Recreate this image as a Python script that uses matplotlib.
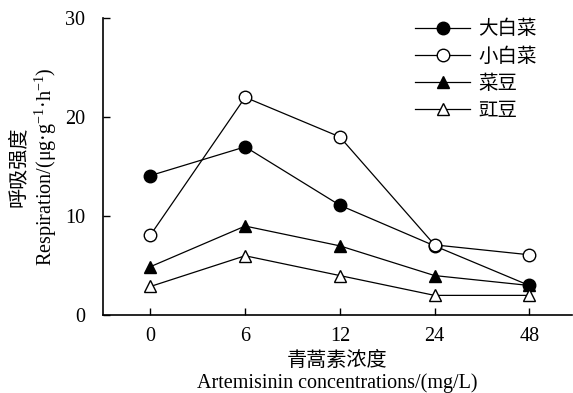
import matplotlib
matplotlib.use("Agg")
import matplotlib.pyplot as plt

plt.rcParams['font.family'] = ['Liberation Serif', 'Noto Sans CJK SC']
plt.rcParams['mathtext.fontset'] = 'custom'
plt.rcParams['mathtext.rm'] = 'Liberation Serif'

# data
concs = ['0', '6', '12', '24', '48']
dabaicai = [14.1, 17.0, 11.1, 7.0, 3.0]
xiaobaicai = [8.1, 22.0, 18.0, 7.1, 6.1]
caidou = [4.9, 9.0, 7.0, 4.0, 3.0]
jiangdou = [2.9, 6.0, 4.0, 2.0, 2.0]
names = ['大白菜', '小白菜', '菜豆', '豇豆']

fig = plt.figure(figsize=(5.73, 3.93), dpi=100)
ax = fig.add_axes([0.18, 0.198, 0.818, 0.756])

x = list(range(len(concs)))
lw = 0.9
ms = 9
ax.plot(x, dabaicai, '-o', color='black', mfc='black', mec='black', lw=lw, ms=ms, label=names[0])
ax.plot(x, xiaobaicai, '-o', color='black', mfc='white', mec='black', lw=lw, ms=ms, label=names[1])
ax.plot(x, caidou, '-^', color='black', mfc='black', mec='black', lw=lw, ms=ms, label=names[2])
ax.plot(x, jiangdou, '-^', color='black', mfc='white', mec='black', lw=lw, ms=ms, label=names[3])

ax.set_xlim(-0.5, 4.45)
ax.set_ylim(0, 30)
ax.set_xticks(x)
ax.set_xticklabels(concs)
ax.set_yticks([0, 10, 20, 30])
ax.tick_params(direction='in', labelsize=14.5, length=5, width=1)
ax.tick_params(axis='y', pad=13)
ax.tick_params(axis='x', pad=8.5)
ax.spines['top'].set_visible(False)
ax.spines['right'].set_visible(False)
ax.spines['left'].set_linewidth(1.2)
ax.spines['bottom'].set_linewidth(1.2)

ax.set_xlabel('青蒿素浓度\nArtemisinin concentrations/(mg/L)', fontsize=14.5, linespacing=1.2, labelpad=4)
ax.set_ylabel('呼吸强度\nRespiration/(μg·g$^{-1}$·h$^{-1}$)', fontsize=14.5, linespacing=1.2, labelpad=4)

leg = ax.legend(loc='upper left', bbox_to_anchor=(0.724, 0.949), bbox_transform=fig.transFigure,
                frameon=False, fontsize=14, borderpad=0, borderaxespad=0,
                handlelength=2.85, labelspacing=0.46, handletextpad=0.4)

fig.savefig('out.png', dpi=100)
